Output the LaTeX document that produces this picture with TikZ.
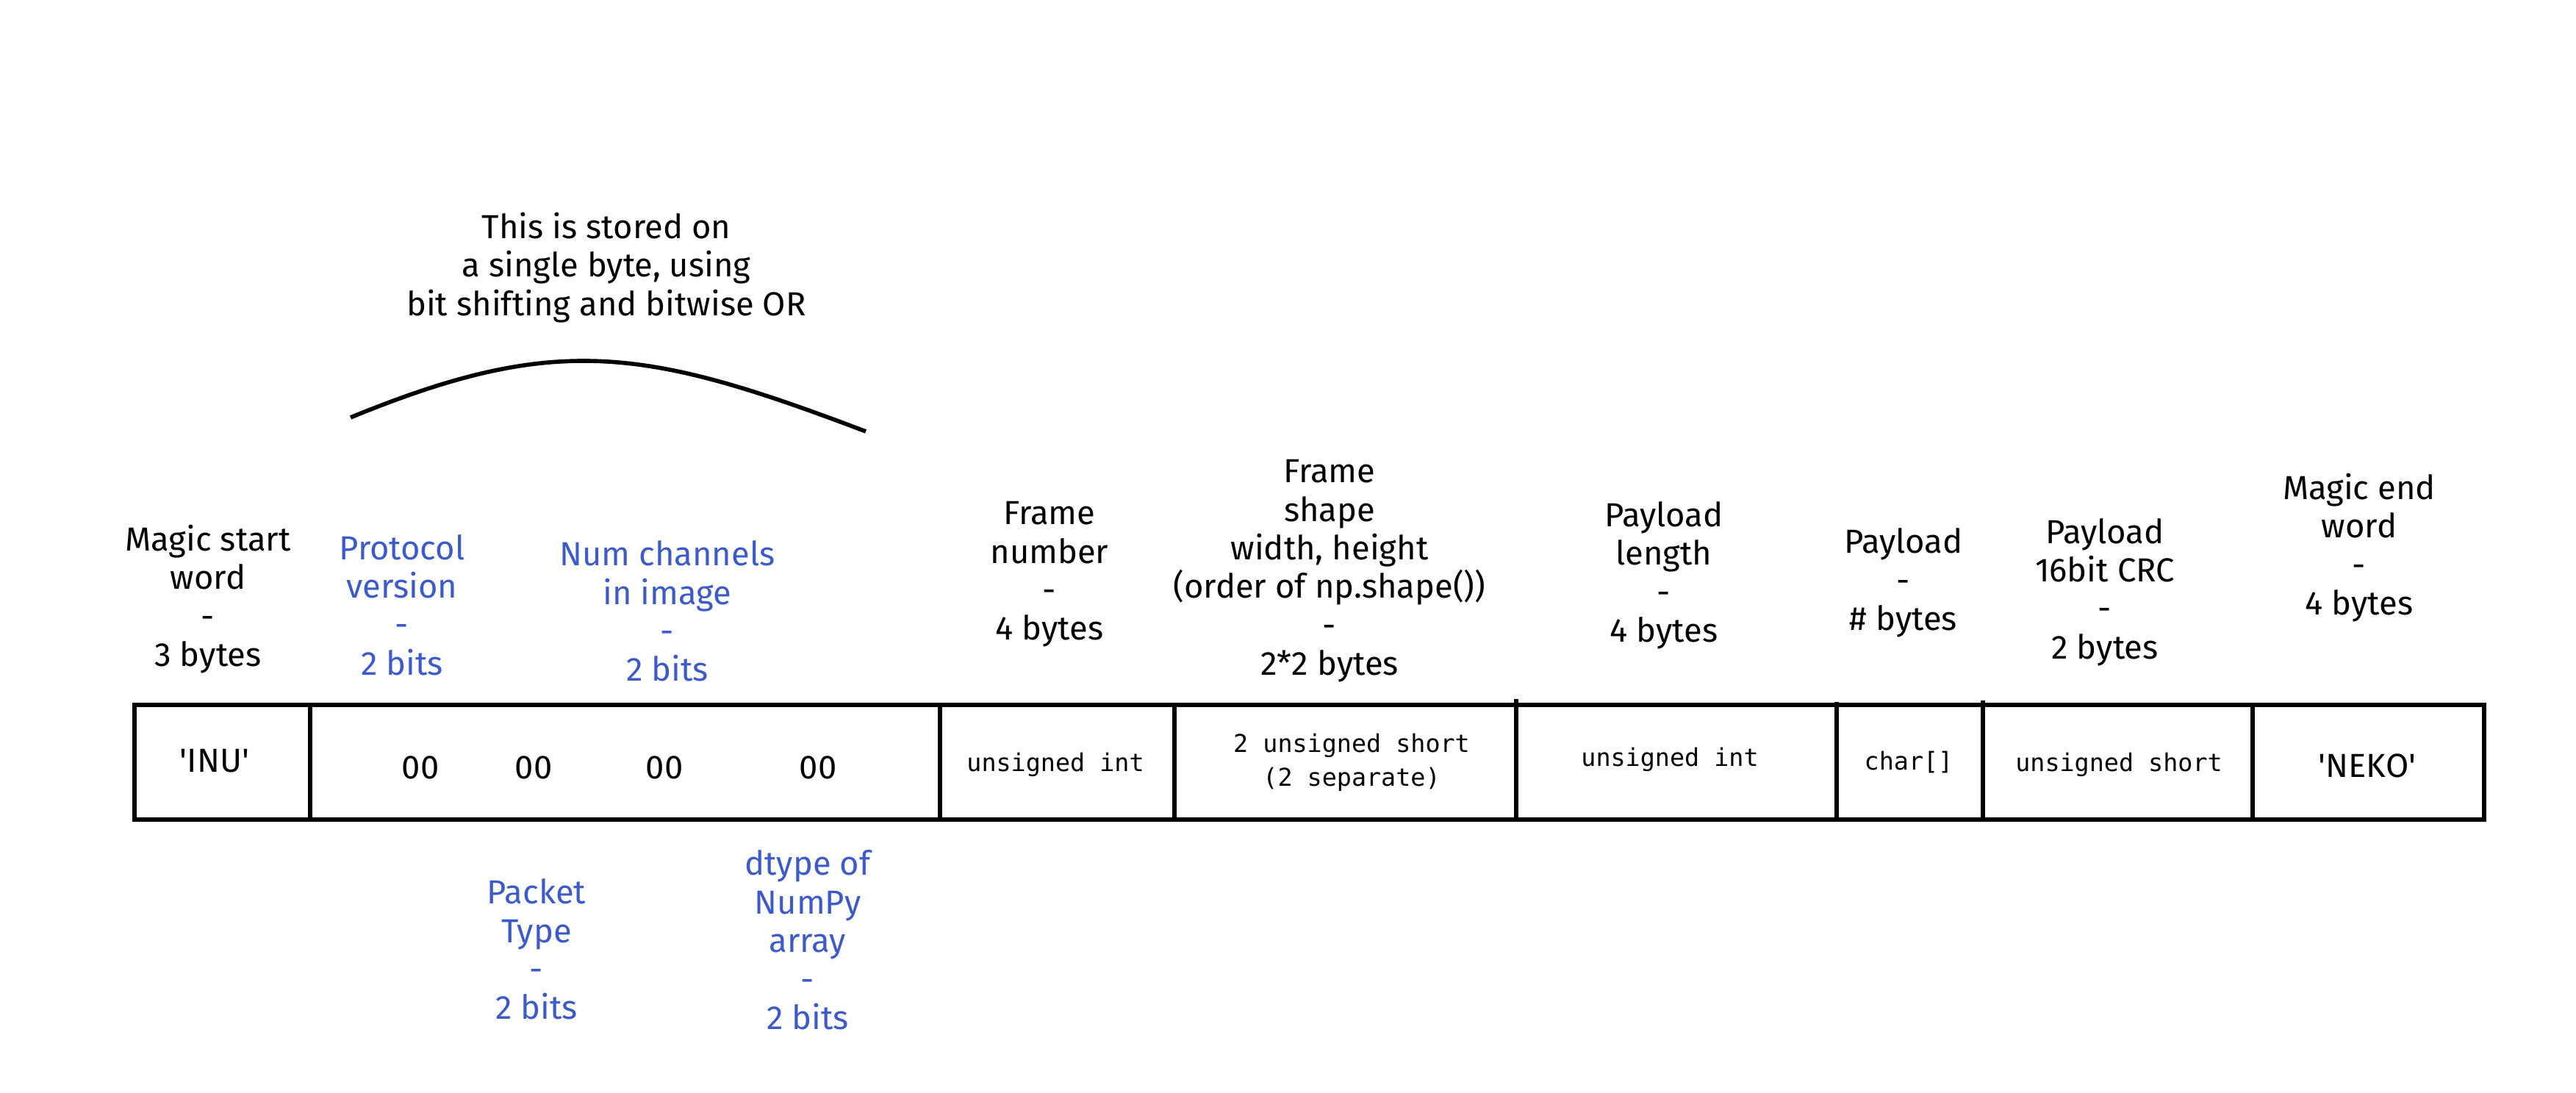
\documentclass[tikz,border=0pt]{standalone}
\usepackage{fontspec}
\setmainfont{Fira Sans}
\setmonofont{DejaVu Sans Mono}
\definecolor{fieldblue}{HTML}{3C5AC8}
\usepackage{tikz}
\usetikzlibrary{positioning}
\newcommand{\magicword}[1]{\textquotesingle#1\textquotesingle}

\tikzset{
  fieldtext/.style={align=center, inner sep=0pt, font={\fontsize{12.9pt}{14.9pt}\selectfont}},
  bitfield/.style={fieldtext, text=fieldblue},
  celltype/.style={align=center, inner sep=0pt, font={\fontsize{9.5pt}{13pt}\selectfont\ttfamily}},
  packet/.style={line width=1.6pt},
}

\begin{document}
\begin{tikzpicture}
  \useasboundingbox (0,0) rectangle (35.05,14.87);

  % Packet frame and field borders
  \draw[packet] (1.83,3.72) rectangle (33.80,5.28);
  \foreach \x in {4.22, 12.79, 15.98, 30.65}
    \draw[packet] (\x,3.72) -- (\x,5.28);
  \foreach \x/\dy in {20.63/0.08, 24.99/0.04, 26.98/0.06}
    \draw[packet] (\x,3.72) -- (\x,5.28+\dy);

  % Field contents
  \node[fieldtext] (inu) at (2.92,4.52) {\magicword{INU}};
  \node[fieldtext] (bitsA) at (5.72,4.43) {00};
  \node[fieldtext] (bitsB) at (7.26,4.43) {00};
  \node[fieldtext] (bitsC) at (9.04,4.43) {00};
  \node[fieldtext] (bitsD) at (11.13,4.43) {00};
  \node[celltype] (framenum) at (14.36,4.47) {unsigned int};
  \node[celltype] (shape) at (18.39,4.50) {2 unsigned short\\(2 separate)};
  \node[celltype] (paylen) at (22.72,4.54) {unsigned int};
  \node[celltype] (payload) at (25.97,4.50) {char[]};
  \node[celltype] (crc) at (28.83,4.47) {unsigned short};
  \node[fieldtext] (neko) at (32.21,4.45) {\magicword{NEKO}};

  % Field descriptions above
  \node[fieldtext] (startlbl) at (2.83,6.72) {Magic start\\word\\-\\3 bytes};
  \node[bitfield] (protolbl) at (5.47,6.64) {Protocol\\version\\-\\2 bits};
  \node[bitfield] (chanlbl) at (9.08,6.555) {Num channels\\in image\\-\\2 bits};
  \node[fieldtext] (framenumlbl) at (14.28,7.055) {Frame\\number\\-\\4 bytes};
  \node[fieldtext] (shapelbl) at (18.09,7.10) {Frame\\shape\\width, height\\(order of np.shape())\\-\\2*2 bytes};
  \node[fieldtext] (paylenlbl) at (22.64,7.04) {Payload\\length\\-\\4 bytes};
  \node[fieldtext] (payloadlbl) at (25.90,6.94) {Payload\\-\\\# bytes};
  \node[fieldtext] (crclbl) at (28.64,6.815) {Payload\\16bit CRC\\-\\2 bytes};
  \node[fieldtext] (endlbl) at (32.10,7.42) {Magic end\\word\\-\\4 bytes};

  % Field descriptions below
  \node[bitfield] (typelbl) at (7.30,1.955) {Packet\\Type\\-\\2 bits};
  \node[bitfield] (dtypelbl) at (10.99,2.08) {dtype of\\NumPy\\array\\-\\2 bits};

  % Single byte note
  \node[fieldtext] (bytenote) at (8.25,11.23) {This is stored on\\a single byte, using\\bit shifting and bitwise OR};
  \coordinate (arcL) at (4.77,9.19);
  \coordinate (arcR) at (11.78,9.00);
  \draw[line width=1.6pt] (arcL) .. controls (7.57,10.34) and (8.78,10.14) .. (arcR);
\end{tikzpicture}
\end{document}
